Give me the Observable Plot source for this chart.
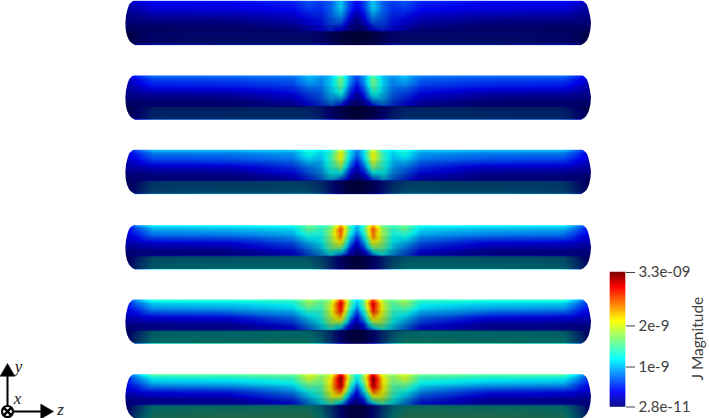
<!DOCTYPE html>
<html><head><meta charset="utf-8">
<script src="https://cdn.jsdelivr.net/npm/d3@7"></script>
<script src="https://cdn.jsdelivr.net/npm/@observablehq/plot@0.6"></script>
<style>html,body{margin:0;padding:0;background:#fff}#c{position:relative;width:709px;height:418px;overflow:hidden}#c svg{position:absolute;left:0;top:0}</style>
</head><body><div id="c"></div>
<script>
const zOffsets = [0,7,16,26,36,48,64,130,205,222,233];
const rowFractions = [0,.1,.25,.4,.55,.68,.71,1];
const panelTops = [.3,75,149.3,224.7,299,373.7];
const panelHeight = 44.3;
const panel1 = [
 [.4,.56,1.0,.68,.58,.66,.52,.42,.42,.3,.14],
 [.38,.6,1.1,.72,.56,.64,.46,.38,.36,.26,.13],
 [.26,.5,1.02,.72,.52,.53,.38,.3,.28,.18,.11],
 [.13,.36,.82,.68,.48,.41,.28,.17,.15,.12,.1],
 [.07,.2,.58,.6,.43,.33,.2,.09,.08,.07,.06],
 [.04,.08,.3,.5,.36,.26,.13,.07,.06,.05,.04],
 [.03,.05,.12,.24,.36,.42,.44,.42,.4,.22,.08],
 [.04,.06,.14,.28,.42,.5,.5,.5,.46,.3,.12]];
const panel2 = [
 [.6,.85,1.5,1.0,.88,1.0,.8,.76,.76,.5,.22],
 [.58,.9,1.65,1.08,.85,.98,.7,.62,.6,.4,.2],
 [.4,.75,1.55,1.08,.78,.8,.58,.48,.45,.28,.18],
 [.2,.55,1.3,1.02,.72,.62,.42,.25,.22,.18,.15],
 [.1,.3,.88,.92,.65,.5,.3,.12,.11,.1,.09],
 [.05,.12,.45,.72,.55,.4,.2,.1,.09,.08,.05],
 [.04,.07,.18,.36,.52,.62,.65,.62,.6,.35,.12],
 [.05,.08,.2,.42,.62,.75,.75,.75,.7,.45,.17]];
const panel3 = [
 [.78,1.1,1.95,1.3,1.14,1.3,1.04,1.0,1.0,.65,.3],
 [.75,1.17,2.15,1.42,1.1,1.26,.9,.8,.78,.5,.26],
 [.52,.98,2.05,1.42,1.0,1.04,.75,.62,.58,.36,.23],
 [.26,.72,1.68,1.36,.94,.8,.55,.32,.3,.23,.19],
 [.13,.39,1.15,1.2,.85,.65,.39,.16,.15,.13,.12],
 [.07,.16,.6,.95,.72,.52,.26,.13,.12,.1,.07],
 [.05,.09,.24,.48,.68,.8,.85,.8,.78,.45,.16],
 [.07,.1,.28,.55,.82,.98,.98,.98,.91,.58,.22]];
const panel4 = [
 [.95,1.35,2.4,1.55,1.4,1.6,1.28,1.22,1.2,.8,.36],
 [.92,1.45,2.7,1.75,1.36,1.55,1.1,1.0,.95,.62,.33],
 [.64,1.2,2.55,1.78,1.25,1.28,.92,.76,.72,.44,.28],
 [.32,.88,2.1,1.7,1.16,1.0,.68,.4,.36,.28,.24],
 [.16,.48,1.45,1.5,1.04,.8,.48,.2,.18,.16,.14],
 [.08,.2,.75,1.18,.88,.64,.32,.16,.14,.12,.08],
 [.06,.11,.3,.6,.85,1.0,1.04,1.0,.96,.56,.2],
 [.08,.13,.36,.68,1.0,1.2,1.2,1.2,1.12,.72,.28]];
const panel5 = [
 [1.08,1.55,2.75,1.78,1.58,1.8,1.42,1.36,1.36,.9,.42],
 [1.03,1.62,3.05,1.98,1.52,1.75,1.25,1.12,1.08,.72,.38],
 [.72,1.35,2.9,2.0,1.4,1.42,1.03,.85,.8,.5,.32],
 [.36,1.0,2.35,1.9,1.3,1.12,.76,.45,.4,.32,.27],
 [.18,.54,1.62,1.68,1.17,.9,.54,.22,.2,.18,.16],
 [.09,.22,.85,1.32,1.0,.72,.36,.18,.16,.14,.09],
 [.07,.12,.34,.68,.95,1.12,1.17,1.12,1.08,.62,.22],
 [.09,.15,.4,.76,1.12,1.35,1.35,1.35,1.26,.8,.3]];
const panel6 = [
 [1.2,1.7,3.0,1.95,1.75,2.0,1.6,1.55,1.55,1.0,.45],
 [1.15,1.8,3.3,2.15,1.7,1.95,1.4,1.25,1.2,.8,.4],
 [.8,1.5,3.2,2.2,1.55,1.6,1.15,.95,.9,.55,.35],
 [.4,1.1,2.6,2.1,1.45,1.25,.85,.5,.45,.35,.3],
 [.2,.6,1.75,1.85,1.3,1.0,.6,.25,.22,.2,.18],
 [.1,.25,.95,1.45,1.1,.8,.4,.2,.18,.15,.1],
 [.08,.13,.38,.75,1.05,1.25,1.3,1.25,1.2,.7,.25],
 [.1,.16,.45,.85,1.25,1.5,1.5,1.5,1.4,.9,.35]];
const panels = [panel1,panel2,panel3,panel4,panel5,panel6];
const shadeEdges = [0,.06,.25,.4,.55,.7,.72,1];
const shadeAlpha = [0,.08,.14,.2,.28,.68,.6];
const capFractions = [-.05,0,.03,.06,.1,.2,.35,.5,.65,.8,.9,.94,.97,1,1.05];
const capInset = [12,9,7,5.5,4,2.5,1,0,.5,2,4,5.5,7,9,12];
const colorDomain = [.028,.39,1.2,2.12,2.94,3.3];
const colorRange = ["#00007f","#0000ff","#00ffff","#ffff00","#ff0000","#7f0000"];
const legendTicks = [.028,1,2,3.3];
const legendLabels = ["2.8e-11","1e-9","2e-9","3.3e-09"];
const legendTitle = "J Magnitude";
const tickColor = "#404040";
const zMin=-233, zMax=233, zNotch=-1.5;
const triadOrigin = {x:-351,y:411};
const triadY = {x:-351,y:371.5};
const triadZ = {x:-313.5,y:411};
const triadLabels = [{t:"y",x:-340,y:366},{t:"x",x:-341,y:398},{t:"z",x:-298,y:409}];

const color = {type:"linear",domain:colorDomain,range:colorRange};
const marks = [];
panels.forEach((rows,p)=>{
  const top = panelTops[p];
  const pts = [];
  rows.forEach((r,i)=>r.forEach((v,j)=>{
    const y = top+rowFractions[i]*panelHeight;
    const o = zOffsets[j], shift = o<130 ? zNotch : 0;
    pts.push({z:o+shift,y,v});
    if(o>0) pts.push({z:-o+shift,y,v});
  }));
  marks.push(Plot.raster(pts,{x:"z",y:"y",fill:"v",interpolate:"barycentric",pixelSize:1,
    x1:zMin,x2:zMax,y1:top,y2:top+panelHeight,imageRendering:"auto"}));
  const bands = shadeAlpha.map((a,i)=>({a,y1:top+shadeEdges[i]*panelHeight,y2:top+shadeEdges[i+1]*panelHeight}));
  marks.push(Plot.rect(bands,{x1:zMin,x2:zMax,y1:"y1",y2:"y2",fill:"black",fillOpacity:"a"}));
  const capL = capFractions.map((f,i)=>({y:top+f*panelHeight,a:zMin-2,b:zMin+capInset[i]}));
  const capR = capFractions.map((f,i)=>({y:top+f*panelHeight,a:zMax+2,b:zMax-capInset[i]}));
  marks.push(Plot.areaX(capL,{y:"y",x1:"a",x2:"b",fill:"white"}));
  marks.push(Plot.areaX(capR,{y:"y",x1:"a",x2:"b",fill:"white"}));
});
marks.push(Plot.line([triadOrigin,triadY],{x:"x",y:"y",stroke:"black",strokeWidth:2}));
marks.push(Plot.line([triadOrigin,triadZ],{x:"x",y:"y",stroke:"black",strokeWidth:2}));
marks.push(Plot.dot([triadY],{x:"x",y:"y",symbol:"triangle",r:5.5,fill:"black",stroke:"black",strokeWidth:.5}));
marks.push(Plot.dot([triadZ],{x:"x",y:"y",symbol:"triangle",r:5.5,rotate:90,fill:"black",stroke:"black",strokeWidth:.5}));
marks.push(Plot.dot([triadOrigin],{x:"x",y:"y",r:5.5,fill:"white",stroke:"black",strokeWidth:2.2}));
marks.push(Plot.dot([triadOrigin],{x:"x",y:"y",r:3.6,symbol:"times",stroke:"black",strokeWidth:2.2}));
marks.push(Plot.text(triadLabels,{x:"x",y:"y",text:"t",fontFamily:"Liberation Serif",fontStyle:"italic",fontSize:17,fill:"#222"}));

const main = Plot.plot({width:709,height:418,margin:0,
  x:{domain:[-358,351],range:[0,709],axis:null},
  y:{domain:[0,418],range:[0,418],axis:null},
  color, marks});

const steps = d3.range(0,135).map(i=>({y1:.028+i*3.272/135,y2:.028+(i+1)*3.272/135}));
const legend = Plot.plot({width:709,height:418,margin:0,
  style:{background:"transparent",fontFamily:"Lato, 'Open Sans', sans-serif"},
  x:{domain:[0,709],range:[0,709],axis:null},
  y:{domain:[.028,3.3],range:[406.5,272],axis:null},
  color,
  marks:[
    Plot.rect(steps,{x1:610,x2:625,y1:"y1",y2:"y2",fill:d=>(d.y1+d.y2)/2,stroke:d=>(d.y1+d.y2)/2,strokeWidth:.5}),
    Plot.axisY({anchor:"right",ticks:legendTicks,tickFormat:d=>legendLabels[legendTicks.indexOf(d)],
      label:null,x:625,tickSize:9,tickPadding:4,fontSize:15,stroke:tickColor,color:tickColor,fill:tickColor}),
    Plot.text([legendTitle],{x:698,y:1.69,rotate:-90,fontSize:15.5,fill:tickColor})
  ]});
document.getElementById("c").append(main,legend);
</script></body></html>
